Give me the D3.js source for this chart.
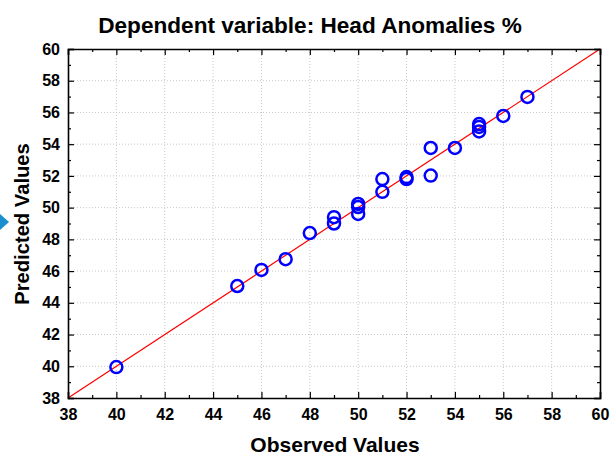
<!DOCTYPE html>
<html><head><meta charset="utf-8">
<script src="https://cdn.jsdelivr.net/npm/d3@7/dist/d3.min.js"></script>
<style>body{margin:0;background:#fff}svg{display:block}text{font-family:"Liberation Sans",Arial,sans-serif;font-weight:bold}</style>
</head><body>
<script>
const title = "Dependent variable: Head Anomalies %";
const xLabel = "Observed Values";
const yLabel = "Predicted Values";
const observed  = [40, 45, 46, 47, 48, 49, 49, 50, 50, 50, 51, 51, 52, 52, 53, 53, 54, 55, 55, 55, 56, 57];
const predicted = [39.95, 45.06, 46.07, 46.75, 48.4, 49.4, 49.0, 50.23, 50.04, 49.6, 51.8, 51.0, 51.93, 51.8, 53.76, 52.02, 53.76, 55.27, 55.09, 54.8, 55.78, 56.98];
const majorTicks = [38, 40, 42, 44, 46, 48, 50, 52, 54, 56, 58, 60];
const minorTicks = [39, 41, 43, 45, 47, 49, 51, 53, 55, 57, 59];
const domain = [38, 60];

const W = 610, H = 455;
const L = 68, R = 600, T = 49, B = 398;
const svg = d3.select("body").append("svg").attr("width", W).attr("height", H);
const x = d3.scaleLinear().domain(domain).range([L, R]);
const y = d3.scaleLinear().domain(domain).range([B, T]);

// grid
const g = svg.append("g");
majorTicks.slice(1, -1).forEach(v => {
  g.append("line").attr("x1", x(v)).attr("x2", x(v)).attr("y1", T).attr("y2", B)
    .attr("stroke", "#c8c8c8").attr("stroke-width", 1).attr("stroke-dasharray", "1,2");
  g.append("line").attr("x1", L).attr("x2", R).attr("y1", y(v)).attr("y2", y(v))
    .attr("stroke", "#c8c8c8").attr("stroke-width", 1).attr("stroke-dasharray", "1,2");
});

// fit line
svg.append("line").attr("x1", x(domain[0])).attr("y1", y(domain[0]))
  .attr("x2", x(domain[1])).attr("y2", y(domain[1]))
  .attr("stroke", "#ff0000").attr("stroke-width", 1.2);

// axes
const axes = [
  {ax: () => d3.axisBottom(x), tr: `translate(0,${B})`, lab: true, pad: 11},
  {ax: () => d3.axisTop(x), tr: `translate(0,${T})`, lab: false, pad: 0},
  {ax: () => d3.axisLeft(y), tr: `translate(${L},0)`, lab: true, pad: 8},
  {ax: () => d3.axisRight(y), tr: `translate(${R},0)`, lab: false, pad: 0}
];
axes.forEach(a => {
  const ga = svg.append("g").attr("transform", a.tr)
    .call(a.ax().tickValues(majorTicks).tickSize(-6).tickPadding(a.pad).tickFormat(a.lab ? d3.format("d") : () => ""));
  ga.select(".domain").attr("stroke", "#000").attr("stroke-width", 1.6);
  ga.selectAll(".tick line").attr("stroke", "#000").attr("stroke-width", 1.2);
  ga.selectAll("text").attr("font-size", 16).attr("fill", "#000");
  const gm = svg.append("g").attr("transform", a.tr)
    .call(a.ax().tickValues(minorTicks).tickSize(-3).tickFormat(() => ""));
  gm.select(".domain").remove();
  gm.selectAll(".tick line").attr("stroke", "#000").attr("stroke-width", 1.2);
});

// points
svg.append("g").selectAll("circle").data(observed.map((o, i) => [o, predicted[i]]))
  .join("circle").attr("cx", d => x(d[0])).attr("cy", d => y(d[1])).attr("r", 6)
  .attr("fill", "none").attr("stroke", "#0000ff").attr("stroke-width", 2.5);

// titles
svg.append("text").attr("x", 310).attr("y", 33).attr("text-anchor", "middle")
  .attr("font-size", 22.6).text(title);
svg.append("text").attr("x", 335).attr("y", 452).attr("text-anchor", "middle")
  .attr("font-size", 21).text(xLabel);
svg.append("text").attr("transform", `translate(29,224) rotate(-90)`)
  .attr("text-anchor", "middle").attr("font-size", 20.2).text(yLabel);

// left-edge marker
svg.append("path").attr("d", "M0,214L9,222L0,230Z").attr("fill", "#1a8fd0");
</script>
</body></html>
